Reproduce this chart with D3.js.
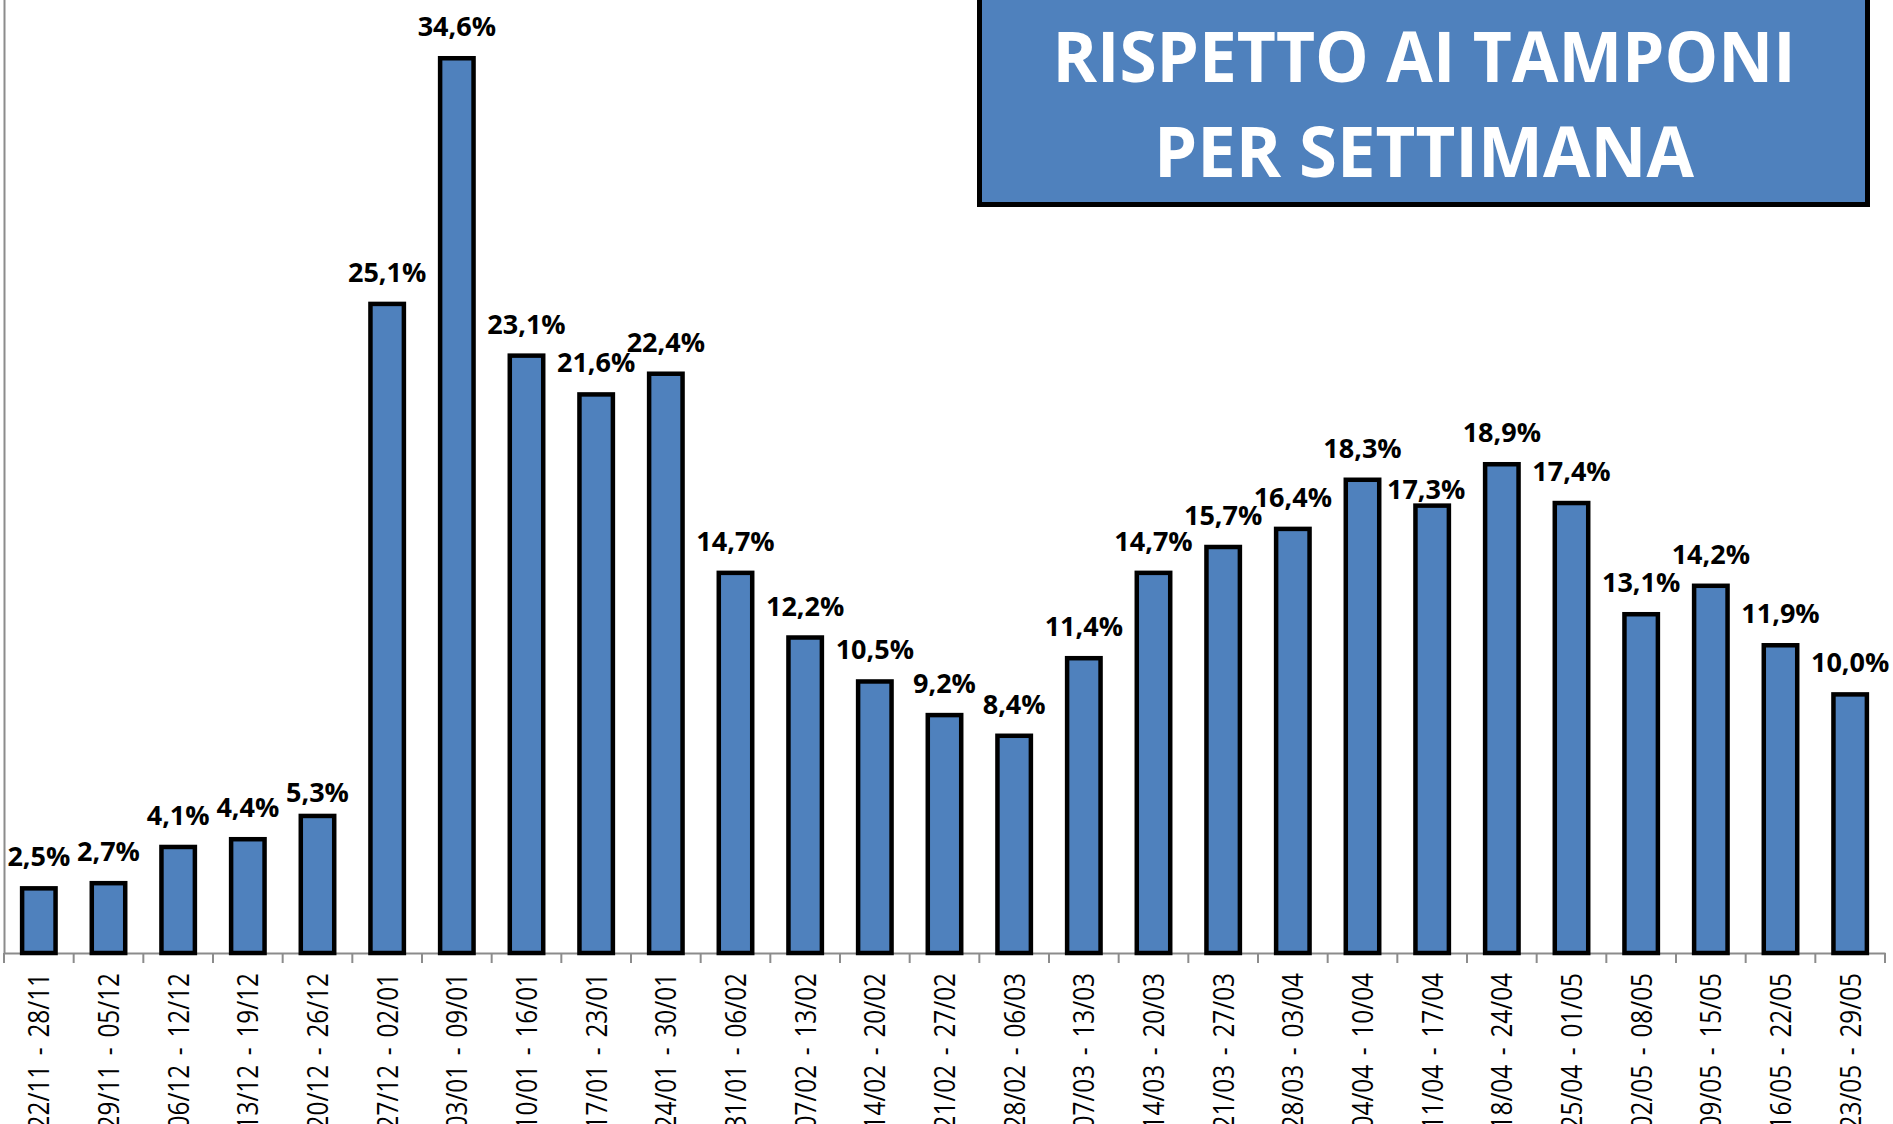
<!DOCTYPE html>
<html>
<head>
<meta charset="utf-8">
<script src="https://cdn.jsdelivr.net/npm/d3@7"></script>
<style>
  html, body { margin: 0; padding: 0; background: #ffffff; }
  svg { display: block; }
</style>
</head>
<body>
<svg id="chart" width="1893" height="1124"></svg>
<script>
const categories = [
  "22/11 - 28/11", "29/11 - 05/12", "06/12 - 12/12", "13/12 - 19/12", "20/12 - 26/12",
  "27/12 - 02/01", "03/01 - 09/01", "10/01 - 16/01", "17/01 - 23/01", "24/01 - 30/01",
  "31/01 - 06/02", "07/02 - 13/02", "14/02 - 20/02", "21/02 - 27/02", "28/02 - 06/03",
  "07/03 - 13/03", "14/03 - 20/03", "21/03 - 27/03", "28/03 - 03/04", "04/04 - 10/04",
  "11/04 - 17/04", "18/04 - 24/04", "25/04 - 01/05", "02/05 - 08/05", "09/05 - 15/05",
  "16/05 - 22/05", "23/05 - 29/05"
];
const values = [
  2.5, 2.7, 4.1, 4.4, 5.3,
  25.1, 34.6, 23.1, 21.6, 22.4,
  14.7, 12.2, 10.5, 9.2, 8.4,
  11.4, 14.7, 15.7, 16.4, 18.3,
  17.3, 18.9, 17.4, 13.1, 14.2,
  11.9, 10.0
];
const titleLines = ["RISPETTO AI TAMPONI", "PER SETTIMANA"];

const data = categories.map((c, i) => ({ cat: c, v: values[i] }));
const fmt = v => v.toFixed(1).replace(".", ",") + "%";

const svg = d3.select("#chart");
const baseY = 953;
const pxPerUnit = 25.86;

const x = d3.scaleBand().domain(categories).range([4, 1885]).padding(0);
const y = d3.scaleLinear().domain([0, 40]).range([baseY, baseY - 40 * pxPerUnit]);

const barW = x.bandwidth() * 0.48;
const axisColor = "#8c8c8c";

// left axis line
const yAxis = svg.append("g")
  .attr("transform", "translate(4,0)")
  .call(d3.axisLeft(y).ticks(0).tickSizeOuter(0));
yAxis.select(".domain").attr("stroke", axisColor).attr("stroke-width", 2);

// bottom axis
const xAxis = svg.append("g")
  .attr("transform", `translate(0,${baseY})`)
  .call(d3.axisBottom(x).tickSizeInner(0).tickSizeOuter(0));
xAxis.select(".domain").attr("stroke", axisColor).attr("stroke-width", 2);
xAxis.selectAll(".tick line").remove();
xAxis.selectAll(".tick text")
  .attr("font-family", "'Open Sans', sans-serif")
  .attr("font-size", 29)
  .attr("fill", "#000")
  .attr("text-anchor", "end")
  .attr("y", 0)
  .attr("dy", "0.36em")
  .style("word-spacing", "4px")
  .attr("transform", "translate(0,20) rotate(-90) scale(0.84,1)");

// boundary ticks
const bounds = categories.map(c => x(c)).concat([x.range()[1]]);
svg.append("g").selectAll("line")
  .data(bounds)
  .join("line")
  .attr("x1", d => d).attr("x2", d => d)
  .attr("y1", baseY).attr("y2", baseY + 10)
  .attr("stroke", axisColor).attr("stroke-width", 2);

// bars
svg.append("g").selectAll("rect")
  .data(data)
  .join("rect")
  .attr("x", d => x(d.cat) + (x.bandwidth() - barW) / 2)
  .attr("width", barW)
  .attr("y", d => y(d.v))
  .attr("height", d => y(0) - y(d.v))
  .attr("fill", "#4F81BD")
  .attr("stroke", "#000")
  .attr("stroke-width", 4.5);

// label placement tweaks (Excel overlap avoidance)
const labelGap = i => (i === 4 ? 14 : i === 20 ? 7 : 22);
const labelShift = i => (i === 20 ? -6 : 0);

svg.append("g").selectAll("text")
  .data(data)
  .join("text")
  .attr("x", (d, i) => x(d.cat) + x.bandwidth() / 2 + labelShift(i))
  .attr("y", (d, i) => y(d.v) - labelGap(i))
  .attr("text-anchor", "middle")
  .attr("font-family", "'Open Sans', sans-serif")
  .attr("font-weight", 700)
  .attr("font-size", 27)
  .attr("fill", "#000")
  .text(d => fmt(d.v));

// title box
const tb = svg.append("g");
tb.append("rect")
  .attr("x", 979.5).attr("y", -10)
  .attr("width", 888).attr("height", 214.5)
  .attr("fill", "#4F81BD")
  .attr("stroke", "#000")
  .attr("stroke-width", 5);
tb.selectAll("text")
  .data(titleLines)
  .join("text")
  .attr("x", 1424)
  .attr("y", (d, i) => (i === 0 ? 82 : 177))
  .attr("text-anchor", "middle")
  .attr("font-family", "'Open Sans', sans-serif")
  .attr("font-weight", 700)
  .attr("font-size", 70)
  .attr("fill", "#ffffff")
  .attr("textLength", (d, i) => (i === 0 ? 743 : 540))
  .attr("lengthAdjust", "spacingAndGlyphs")
  .text(d => d);
</script>
</body>
</html>
